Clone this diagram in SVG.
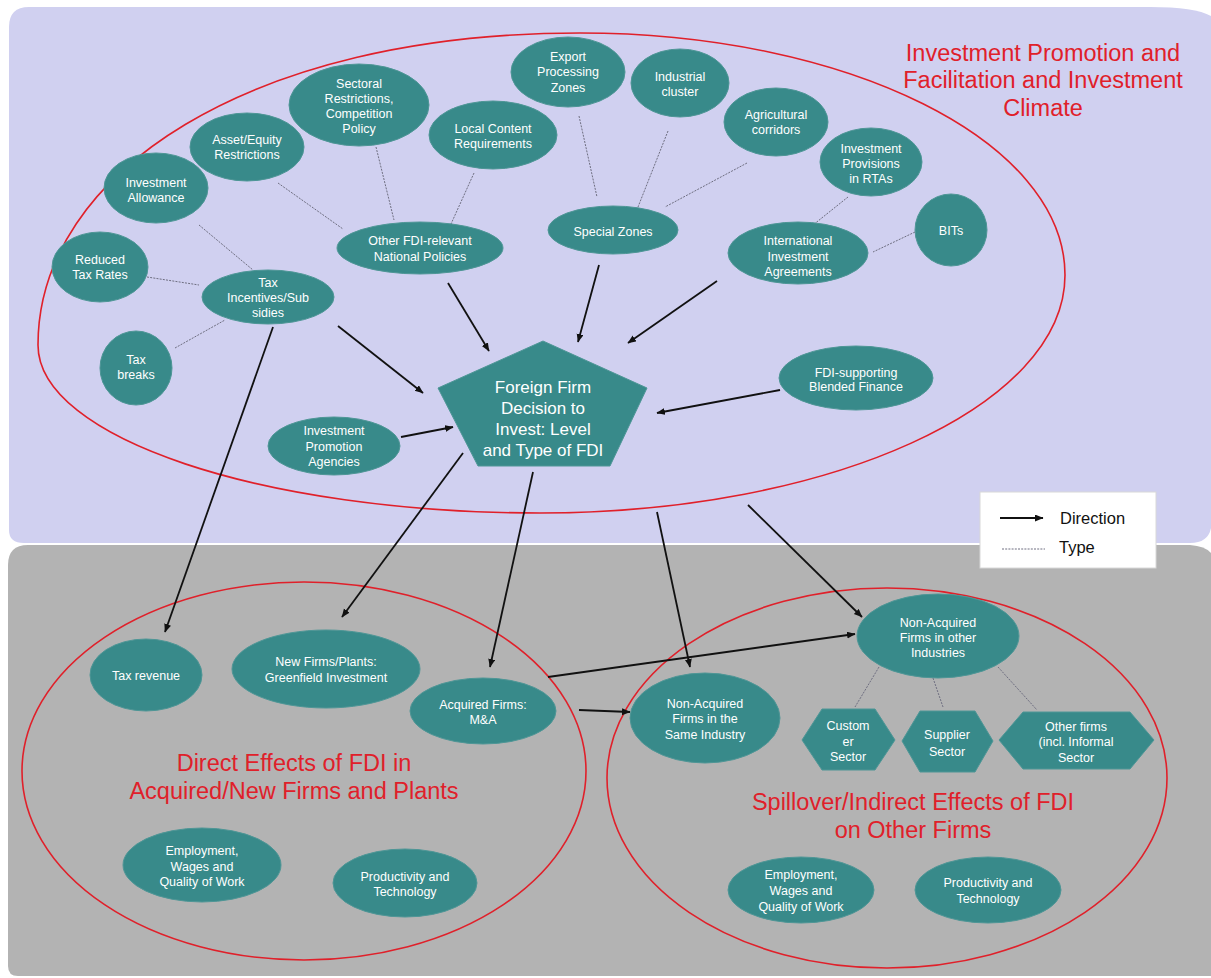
<svg xmlns="http://www.w3.org/2000/svg" width="1211" height="978" viewBox="0 0 1211 978">
<defs>
<style>
.bg1{fill:#d0d0f0}
.bg2{fill:#b3b3b3}
.region{fill:none;stroke:#e0202a;stroke-width:1.6}
.node{fill:#388a8a;stroke:#4e9696;stroke-width:1}
.t{font-family:"Liberation Sans",Arial,sans-serif;font-size:12.5px;fill:#ffffff;text-anchor:middle}
.tb{font-family:"Liberation Sans",Arial,sans-serif;font-size:17px;fill:#ffffff;text-anchor:middle}
.title{font-family:"Liberation Sans",Arial,sans-serif;font-size:23.5px;fill:#e0202a;text-anchor:middle}
.leg{font-family:"Liberation Sans",Arial,sans-serif;font-size:16.5px;fill:#111111}
.dir{fill:none;stroke:#111111;stroke-width:1.8}
.typ{fill:none;stroke:#6e6e80;stroke-width:1;stroke-dasharray:2 1.2}
</style>
<marker id="ah" markerUnits="userSpaceOnUse" markerWidth="9" markerHeight="8" refX="8" refY="3.5" orient="auto">
<path d="M0,0 L8.5,3.5 L0,7 Z" fill="#111111"/>
</marker>
</defs>

<g id="background">
<path class="bg1" d="M9,27 Q9,7 29,7 L1150,7 Q1195,7 1211,16 L1211,528 Q1208,543 1190,543 L24,543 Q9,543 9,530 Z"/>
<path class="bg2" d="M8,565 Q8,545 28,545 L1190,545 Q1205,546 1211,553 L1211,976 L18,976 Q8,976 8,966 Z"/>
</g>

<g id="regions">
<path class="region" d="M580,33 C848,33 1065,141 1065,275 C1065,406 830,513 540,513 C263,513 38,438 38,345 C38,173 250,33 580,33 Z"/>
<ellipse class="region" cx="304" cy="771" rx="282" ry="189"/>
<ellipse class="region" cx="887" cy="778" rx="280" ry="190"/>
<text class="title" x="1043" y="60.5">Investment Promotion and</text>
<text class="title" x="1043" y="88">Facilitation and Investment</text>
<text class="title" x="1043" y="115.5">Climate</text>
<text class="title" x="294" y="771">Direct Effects of FDI in</text>
<text class="title" x="294" y="798.5">Acquired/New Firms and Plants</text>
<text class="title" x="913" y="810">Spillover/Indirect Effects of FDI</text>
<text class="title" x="913" y="838">on Other Firms</text>
</g>

<g id="connectors">
<line class="typ" x1="278" y1="183" x2="343" y2="229"/>
<line class="typ" x1="376" y1="147" x2="394" y2="220"/>
<line class="typ" x1="199" y1="225" x2="253" y2="270"/>
<line class="typ" x1="147" y1="277" x2="199" y2="285"/>
<line class="typ" x1="175" y1="348" x2="225" y2="320"/>
<line class="typ" x1="474" y1="173" x2="451" y2="224"/>
<line class="typ" x1="579" y1="116" x2="597" y2="197"/>
<line class="typ" x1="668" y1="131" x2="638" y2="207"/>
<line class="typ" x1="747" y1="163" x2="665" y2="207"/>
<line class="typ" x1="848" y1="197" x2="813" y2="225"/>
<line class="typ" x1="915" y1="232" x2="873" y2="252"/>
<line class="typ" x1="879" y1="667" x2="855" y2="707"/>
<line class="typ" x1="933" y1="678" x2="943" y2="707"/>
<line class="typ" x1="998" y1="667" x2="1037" y2="710"/>

<line class="dir" x1="338" y1="326" x2="423" y2="393" marker-end="url(#ah)"/>
<line class="dir" x1="448" y1="283" x2="489" y2="351" marker-end="url(#ah)"/>
<line class="dir" x1="599" y1="265" x2="578" y2="342" marker-end="url(#ah)"/>
<line class="dir" x1="717" y1="281" x2="628" y2="343" marker-end="url(#ah)"/>
<line class="dir" x1="780" y1="390" x2="657" y2="413" marker-end="url(#ah)"/>
<line class="dir" x1="401" y1="437" x2="453" y2="427" marker-end="url(#ah)"/>
<line class="dir" x1="273" y1="327" x2="165" y2="632" marker-end="url(#ah)"/>
<line class="dir" x1="463" y1="453" x2="342" y2="617" marker-end="url(#ah)"/>
<line class="dir" x1="533" y1="472" x2="490" y2="667" marker-end="url(#ah)"/>
<line class="dir" x1="657" y1="512" x2="690" y2="667" marker-end="url(#ah)"/>
<line class="dir" x1="748" y1="505" x2="862" y2="617" marker-end="url(#ah)"/>
<line class="dir" x1="548" y1="677" x2="855" y2="634" marker-end="url(#ah)"/>
<line class="dir" x1="579" y1="710" x2="630" y2="712" marker-end="url(#ah)"/>
</g>

<g id="n_alloc"><ellipse class="node" cx="156" cy="188" rx="52" ry="35"/><text class="t" x="156" y="186.5">Investment</text><text class="t" x="156" y="201.5">Allowance</text></g>
<g id="n_asset"><ellipse class="node" cx="247" cy="147" rx="57" ry="34"/><text class="t" x="247" y="143.5">Asset/Equity</text><text class="t" x="247" y="158.5">Restrictions</text></g>
<g id="n_sectoral"><ellipse class="node" cx="359" cy="105" rx="70" ry="41"/><text class="t" x="359" y="87.5">Sectoral</text><text class="t" x="359" y="102.5">Restrictions,</text><text class="t" x="359" y="117.5">Competition</text><text class="t" x="359" y="132.5">Policy</text></g>
<g id="n_local"><ellipse class="node" cx="493" cy="135" rx="64" ry="34"/><text class="t" x="493" y="132.5">Local Content</text><text class="t" x="493" y="147.5">Requirements</text></g>
<g id="n_export"><ellipse class="node" cx="568" cy="72" rx="57" ry="35"/><text class="t" x="568" y="60.5">Export</text><text class="t" x="568" y="76">Processing</text><text class="t" x="568" y="91.5">Zones</text></g>
<g id="n_cluster"><ellipse class="node" cx="680" cy="83" rx="49" ry="34"/><text class="t" x="680" y="80.5">Industrial</text><text class="t" x="680" y="95.5">cluster</text></g>
<g id="n_agri"><ellipse class="node" cx="776" cy="122" rx="52" ry="34"/><text class="t" x="776" y="118.5">Agricultural</text><text class="t" x="776" y="133.5">corridors</text></g>
<g id="n_rta"><ellipse class="node" cx="871" cy="162" rx="51" ry="34"/><text class="t" x="871" y="152.5">Investment</text><text class="t" x="871" y="167.5">Provisions</text><text class="t" x="871" y="183">in RTAs</text></g>
<g id="n_bits"><ellipse class="node" cx="951" cy="230" rx="36" ry="36"/><text class="t" x="951" y="234.5">BITs</text></g>
<g id="n_iia"><ellipse class="node" cx="798" cy="253" rx="70" ry="31"/><text class="t" x="798" y="244.5">International</text><text class="t" x="798" y="260.5">Investment</text><text class="t" x="798" y="275.5">Agreements</text></g>
<g id="n_special"><ellipse class="node" cx="613" cy="230" rx="65" ry="24"/><text class="t" x="613" y="235.5">Special Zones</text></g>
<g id="n_otherpol"><ellipse class="node" cx="420" cy="248" rx="83" ry="26"/><text class="t" x="420" y="244.5">Other FDI-relevant</text><text class="t" x="420" y="260.5">National Policies</text></g>
<g id="n_reduced"><ellipse class="node" cx="100" cy="267" rx="48" ry="35"/><text class="t" x="100" y="263.5">Reduced</text><text class="t" x="100" y="278.5">Tax Rates</text></g>
<g id="n_taxinc"><ellipse class="node" cx="268" cy="297" rx="66" ry="27"/><text class="t" x="268" y="286.5">Tax</text><text class="t" x="268" y="301.5">Incentives/Sub</text><text class="t" x="268" y="316.5">sidies</text></g>
<g id="n_breaks"><ellipse class="node" cx="136" cy="368" rx="36" ry="37"/><text class="t" x="136" y="364">Tax</text><text class="t" x="136" y="379">breaks</text></g>
<g id="n_ipa"><ellipse class="node" cx="334" cy="446" rx="66" ry="29"/><text class="t" x="334" y="434.5">Investment</text><text class="t" x="334" y="450.5">Promotion</text><text class="t" x="334" y="465.5">Agencies</text></g>
<g id="n_blend"><ellipse class="node" cx="856" cy="378" rx="77" ry="32"/><text class="t" x="856" y="376.5">FDI-supporting</text><text class="t" x="856" y="391">Blended Finance</text></g>
<g id="n_decision"><polygon class="node" points="543,341 647,388 610,466 478,466 438,388"/><text class="tb" x="543" y="393">Foreign Firm</text><text class="tb" x="543" y="414">Decision to</text><text class="tb" x="543" y="435">Invest: Level</text><text class="tb" x="543" y="456">and Type of FDI</text></g>

<g id="n_taxrev"><ellipse class="node" cx="146" cy="675" rx="56" ry="36"/><text class="t" x="146" y="679.5">Tax revenue</text></g>
<g id="n_new"><ellipse class="node" cx="326" cy="669" rx="94" ry="39"/><text class="t" x="326" y="665.5">New Firms/Plants:</text><text class="t" x="326" y="681.5">Greenfield Investment</text></g>
<g id="n_ma"><ellipse class="node" cx="483" cy="711" rx="73" ry="33"/><text class="t" x="483" y="708.5">Acquired Firms:</text><text class="t" x="483" y="723.5">M&amp;A</text></g>
<g id="n_same"><ellipse class="node" cx="705" cy="718" rx="75" ry="45"/><text class="t" x="705" y="707.5">Non-Acquired</text><text class="t" x="705" y="722.5">Firms in the</text><text class="t" x="705" y="738.5">Same Industry</text></g>
<g id="n_otherind"><ellipse class="node" cx="938" cy="636" rx="81" ry="42"/><text class="t" x="938" y="626.5">Non-Acquired</text><text class="t" x="938" y="641.5">Firms in other</text><text class="t" x="938" y="656.5">Industries</text></g>
<g id="n_customer"><polygon class="node" points="802,740 822,709 875,709 895,740 875,770 822,770"/><text class="t" x="848" y="729.5">Custom</text><text class="t" x="848" y="745.5">er</text><text class="t" x="848" y="760.5">Sector</text></g>
<g id="n_supplier"><polygon class="node" points="902,741 920,711 975,711 993,741 975,772 920,772"/><text class="t" x="947" y="738.5">Supplier</text><text class="t" x="947" y="755.5">Sector</text></g>
<g id="n_otherfirms"><polygon class="node" points="999,740 1023,712 1130,712 1154,740 1130,769 1023,769"/><text class="t" x="1076" y="730.5">Other firms</text><text class="t" x="1076" y="745.5">(incl. Informal</text><text class="t" x="1076" y="761.5">Sector</text></g>
<g id="n_emp1"><ellipse class="node" cx="202" cy="865" rx="79" ry="37"/><text class="t" x="202" y="854.5">Employment,</text><text class="t" x="202" y="870.5">Wages and</text><text class="t" x="202" y="885.5">Quality of Work</text></g>
<g id="n_prod1"><ellipse class="node" cx="405" cy="883" rx="72" ry="34"/><text class="t" x="405" y="880.5">Productivity and</text><text class="t" x="405" y="895.5">Technology</text></g>
<g id="n_emp2"><ellipse class="node" cx="801" cy="890" rx="73" ry="33"/><text class="t" x="801" y="878.5">Employment,</text><text class="t" x="801" y="894.5">Wages and</text><text class="t" x="801" y="910.5">Quality of Work</text></g>
<g id="n_prod2"><ellipse class="node" cx="988" cy="890" rx="73" ry="33"/><text class="t" x="988" y="886.5">Productivity and</text><text class="t" x="988" y="902.5">Technology</text></g>

<g id="legend">
<rect x="980" y="492" width="176" height="76" fill="#ffffff" stroke="#d8d8d8" stroke-width="1"/>
<line class="dir" x1="1000" y1="518" x2="1043" y2="518" stroke-width="1.5" marker-end="url(#ah)"/>
<text class="leg" x="1060" y="524">Direction</text>
<line class="typ" x1="1002" y1="549" x2="1045" y2="549"/>
<text class="leg" x="1059" y="553">Type</text>
</g>
</svg>
